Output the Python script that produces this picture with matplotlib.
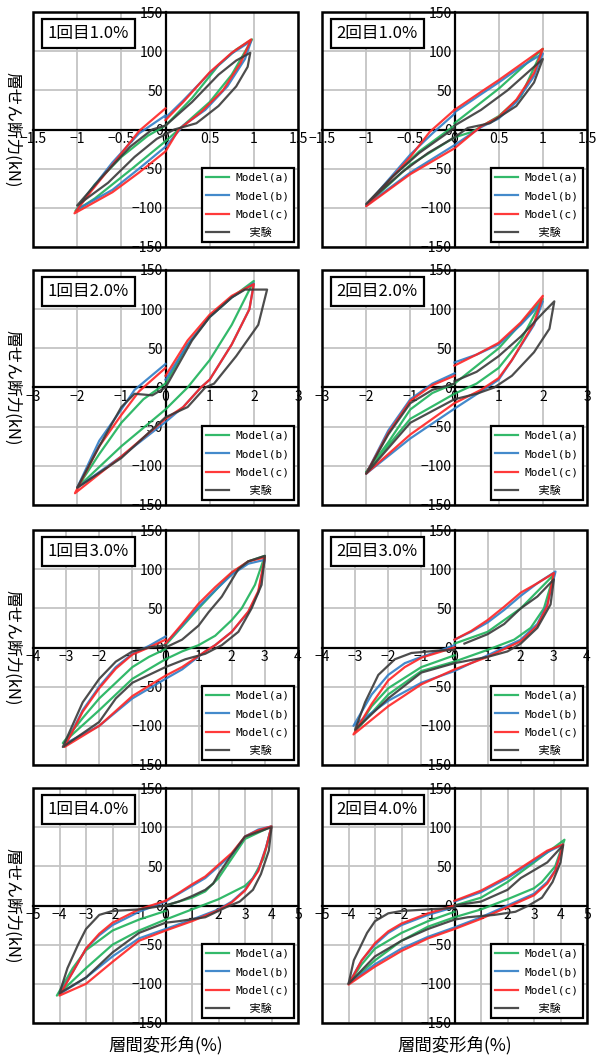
import matplotlib
matplotlib.use("Agg")
import matplotlib.pyplot as plt
from matplotlib.patches import Rectangle
from matplotlib.ticker import MultipleLocator, FuncFormatter

plt.rcParams['font.family'] = ['Noto Sans CJK JP', 'DejaVu Sans']

titles = ["1回目1.0%", "2回目1.0%", "1回目2.0%", "2回目2.0%",
          "1回目3.0%", "2回目3.0%", "1回目4.0%", "2回目4.0%"]
xmax = [1.5, 1.5, 3, 3, 4, 4, 5, 5]
xstep = [0.5, 0.5, 1, 1, 1, 1, 1, 1]
labels = ["Model(a)", "Model(b)", "Model(c)", "  実験"]
colors = ["#1db25a", "#2f7dc6", "#ff2424", "#3a3a3a"]

p1a = [(0, 5), (0.3, 40), (0.6, 82), (0.8, 102), (0.98, 115), (0.75, 70), (0.5, 35), (0.2, 5),
       (0, -15), (-0.4, -52), (-0.8, -88), (-1.02, -104), (-0.8, -70), (-0.5, -35), (-0.2, -8), (0, 5)]
p1b = [(0, 15), (0.2, 37), (0.5, 72), (0.75, 97), (0.97, 113), (0.9, 90), (0.7, 55), (0.45, 25),
       (0.2, 5), (0, -22), (-0.3, -50), (-0.6, -77), (-1.0, -102), (-0.85, -78), (-0.6, -42),
       (-0.3, -5), (0, 18)]
p1c = [(0, 12), (0.2, 35), (0.5, 73), (0.75, 98), (0.97, 115), (0.85, 85), (0.65, 50), (0.4, 22),
       (0.15, 0), (0, -28), (-0.3, -55), (-0.6, -80), (-1.03, -107), (-0.85, -80), (-0.6, -45),
       (-0.3, -2), (0, 27)]
p1e = [(0, 5), (0.3, 35), (0.6, 70), (0.8, 88), (0.96, 98), (0.93, 80), (0.8, 55), (0.6, 30),
       (0.35, 8), (0.1, 0), (-0.1, -12), (-0.35, -35), (-0.65, -68), (-1.0, -97), (-0.7, -58),
       (-0.4, -22), (-0.15, 0), (0, 5)]

p2a = [(0, 8), (0.5, 52), (1.0, 103), (0.75, 42), (0.5, 17), (0.2, -3), (0, -10), (-0.5, -45),
       (-1.0, -97), (-0.7, -60), (-0.4, -28), (0, 5)]
p2b = [(0, 22), (0.3, 45), (0.5, 60), (0.75, 80), (1.0, 97), (0.9, 68), (0.7, 35), (0.5, 14),
       (0.3, 3), (0, -20), (-0.5, -55), (-1.0, -97), (-0.5, -32), (-0.25, -5), (0, 20)]
p2c = [(0, 25), (0.3, 48), (0.5, 63), (0.75, 83), (1.0, 103), (0.9, 72), (0.7, 38), (0.5, 16),
       (0.3, 4), (0, -24), (-0.5, -57), (-1.0, -98), (-0.5, -35), (-0.28, -3), (0, 25)]
p2e = [(0, 5), (0.3, 25), (0.6, 50), (1.0, 90), (0.9, 60), (0.7, 30), (0.4, 8), (0.15, 2),
       (0, -10), (-0.3, -30), (-0.6, -55), (-1.0, -95), (-0.7, -60), (-0.4, -30), (0, 2)]

p3a = [(0, 5), (0.5, 55), (1.0, 90), (1.5, 115), (2.0, 136), (1.5, 80), (1.0, 35), (0.5, 0),
       (0, -28), (-1.0, -75), (-2.0, -128), (-1.5, -85), (-1.0, -45), (-0.5, -15), (0, 5)]
p3b = [(0, 10), (0.5, 55), (1.0, 90), (1.5, 115), (2.0, 133), (1.9, 100), (1.5, 55), (1.0, 10),
       (0.8, 0), (0.4, -25), (0, -44), (-1.0, -88), (-2.0, -128), (-1.5, -68), (-1.0, -28),
       (-0.7, -3), (0, 30)]
p3c = [(0, 15), (0.5, 60), (1.0, 93), (1.5, 117), (2.0, 132), (1.9, 100), (1.5, 55), (1.0, 10),
       (0.8, 0), (0.4, -25), (0, -40), (-1.0, -88), (-2.05, -135), (-1.5, -75), (-1.0, -35),
       (-0.6, -5), (0, 25)]
p3e = [(0, 0), (0.3, 30), (0.6, 60), (1.0, 90), (1.5, 115), (1.8, 125), (2.3, 125), (2.1, 80),
       (1.6, 40), (1.1, 5), (0.9, 0), (0.5, -25), (0, -38), (-1.0, -90), (-2.0, -128),
       (-1.5, -75), (-1.0, -25), (-0.7, -8), (-0.3, -10), (0, 0)]

p4a = [(0, 5), (1.0, 50), (2.0, 113), (1.5, 60), (1.0, 25), (0.5, 5), (0, -8), (-1.0, -40),
       (-2.0, -108), (-1.5, -70), (-1.0, -28), (-0.5, -7), (0, 5)]
p4b = [(0, 32), (0.5, 42), (1.0, 55), (1.5, 80), (2.0, 110), (1.8, 80), (1.3, 35), (1.0, 10),
       (0.6, -5), (0, -27), (-1.0, -65), (-2.0, -110), (-1.5, -55), (-1.0, -15), (-0.5, 5),
       (0, 18)]
p4c = [(0, 28), (0.5, 42), (1.0, 57), (1.5, 83), (2.0, 117), (1.8, 82), (1.3, 35), (1.0, 12),
       (0.6, -3), (0, -20), (-1.0, -60), (-2.0, -110), (-1.5, -58), (-1.0, -17), (-0.5, 3),
       (0, 15)]
p4e = [(0, 8), (0.5, 20), (1.0, 40), (1.5, 65), (2.0, 95), (2.26, 110), (2.15, 75), (1.8, 45),
       (1.3, 15), (0.9, 0), (0.5, -8), (0, -15), (-1.0, -45), (-2.0, -110), (-1.5, -60),
       (-1.0, -20), (-0.5, -3), (0, 5)]

p5a = [(0, 3), (1.0, 50), (2.0, 95), (2.5, 110), (3.0, 117), (2.7, 80), (2.3, 50), (2.0, 35),
       (1.5, 15), (1.0, 3), (0.5, -5), (0, -15), (-1.0, -40), (-2.0, -80), (-3.1, -122),
       (-2.5, -90), (-2.0, -65), (-1.5, -45), (-1.0, -25), (-0.5, -12), (0, -2)]
p5b = [(0, 5), (0.5, 28), (1.0, 52), (1.5, 73), (2.0, 93), (2.5, 107), (3.0, 112), (2.8, 70),
       (2.5, 45), (2.0, 20), (1.5, 3), (1.2, -5), (0.5, -28), (0, -40), (-1.0, -65),
       (-2.0, -100), (-3.0, -122), (-2.5, -80), (-2.0, -50), (-1.5, -25), (-1.0, -8),
       (-0.5, 2), (0, 14)]
p5c = [(0, 5), (0.5, 30), (1.0, 56), (1.5, 77), (2.0, 96), (2.5, 110), (3.0, 115), (2.8, 72),
       (2.5, 46), (2.0, 20), (1.5, 3), (1.2, -5), (0.5, -25), (0, -36), (-1.0, -62),
       (-2.0, -100), (-3.05, -127), (-2.5, -82), (-2.0, -52), (-1.5, -27), (-1.0, -9),
       (-0.5, 0), (0, 10)]
p5e = [(0, 0), (0.5, 10), (1.0, 28), (1.3, 45), (1.7, 65), (2.2, 100), (2.5, 110), (3.0, 117),
       (2.9, 80), (2.6, 50), (2.2, 20), (1.7, 3), (1.2, -8), (0.6, -15), (0, -25), (-0.5, -35),
       (-1.0, -45), (-1.5, -65), (-2.0, -95), (-3.1, -127), (-2.5, -70), (-2.0, -40),
       (-1.5, -18), (-1.0, -5), (-0.5, 0), (0, 3)]

p6a = [(0, 5), (1.0, 20), (2.0, 50), (3.0, 93), (2.7, 50), (2.3, 25), (1.8, 10), (1.0, -3),
       (0, -18), (-1.0, -30), (-2.0, -60), (-3.0, -107), (-2.5, -75), (-2.0, -52), (-1.0, -25),
       (0, -10)]
p6b = [(0, 10), (0.5, 20), (1.0, 32), (1.5, 48), (2.0, 66), (2.5, 82), (3.05, 97), (2.8, 55),
       (2.5, 30), (2.0, 10), (1.5, 0), (1.0, -10), (0, -30), (-1.0, -45), (-2.0, -68),
       (-3.05, -100), (-2.5, -60), (-2.0, -35), (-1.5, -20), (-1.0, -12), (-0.5, -5), (0, 3)]
p6c = [(0, 10), (0.5, 21), (1.0, 35), (1.5, 52), (2.0, 70), (2.5, 82), (3.0, 95), (2.8, 53),
       (2.5, 28), (2.0, 8), (1.5, -2), (1.0, -12), (0, -28), (-1.0, -47), (-2.0, -75),
       (-3.05, -111), (-2.5, -72), (-2.0, -42), (-1.5, -25), (-1.0, -13), (0, 0)]
p6e = [(0.3, 5), (1.0, 17), (1.5, 30), (2.0, 50), (2.5, 65), (3.0, 87), (2.9, 55), (2.5, 25),
       (2.0, 5), (1.6, -5), (1.0, -12), (0.5, -16), (0, -20), (-1.0, -32), (-2.0, -65),
       (-3.0, -105), (-2.7, -70), (-2.3, -35), (-1.8, -15), (-1.3, -7), (-0.5, -4), (0, -3)]

p7a = [(0, 0), (1.0, 10), (1.5, 18), (2.0, 35), (2.5, 60), (3.0, 85), (4.0, 101), (3.7, 60),
       (3.3, 35), (3.0, 25), (2.0, 8), (1.0, -5), (0, -18), (-1.0, -32), (-2.0, -50),
       (-3.0, -80), (-4.1, -115), (-3.5, -80), (-3.0, -57), (-2.0, -32), (-1.0, -18), (0, -7)]
p7b = [(0, 5), (0.5, 15), (1.0, 25), (1.5, 35), (2.0, 50), (2.5, 65), (3.0, 88), (3.5, 97),
       (4.0, 101), (3.8, 75), (3.5, 45), (3.0, 20), (2.5, 5), (2.0, -5), (1.0, -18), (0, -30),
       (-1.0, -42), (-2.0, -65), (-3.0, -92), (-4.0, -113), (-3.5, -85), (-3.0, -55),
       (-2.5, -38), (-2.0, -25), (-1.0, -8), (0, 5)]
p7c = [(0, 6), (0.5, 16), (1.0, 27), (1.5, 37), (2.0, 52), (2.5, 67), (3.0, 88), (3.5, 96),
       (4.0, 101), (3.8, 74), (3.5, 44), (3.0, 19), (2.5, 4), (2.0, -6), (1.0, -20), (0, -32),
       (-1.0, -45), (-2.0, -72), (-3.0, -100), (-4.0, -115), (-3.5, -85), (-3.0, -55),
       (-2.5, -36), (-2.0, -22), (-1.0, -5), (0, 6)]
p7e = [(0, 0), (0.5, 5), (1.0, 12), (1.5, 20), (1.8, 28), (2.0, 40), (2.5, 65), (3.0, 88),
       (4.0, 100), (3.9, 70), (3.6, 40), (3.3, 20), (2.8, 5), (2.3, -2), (1.5, -15), (0.5, -20),
       (0, -22), (-1.0, -35), (-2.0, -60), (-3.0, -92), (-4.0, -112), (-3.7, -80), (-3.3, -50),
       (-3.0, -30), (-2.5, -12), (-2.0, -7), (-1.0, -5), (0, 0)]

p8a = [(0, 0), (1.0, 10), (2.0, 30), (3.0, 55), (4.15, 84), (3.8, 50), (3.3, 30), (3.0, 22),
       (2.0, 8), (1.0, -5), (0, -15), (-1.0, -27), (-2.0, -45), (-3.0, -70), (-4.0, -100),
       (-3.5, -75), (-3.0, -55), (-2.0, -35), (-1.0, -20), (0, -8)]
p8b = [(0, 5), (1.0, 17), (2.0, 35), (3.0, 57), (3.5, 68), (4.1, 78), (3.8, 45), (3.5, 30),
       (3.0, 15), (2.0, 0), (1.0, -15), (0, -28), (-1.0, -40), (-2.0, -55), (-3.0, -75),
       (-4.0, -100), (-3.5, -70), (-3.0, -50), (-2.5, -35), (-2.0, -25), (-1.0, -12), (0, -2)]
p8c = [(0, 6), (1.0, 19), (2.0, 37), (3.0, 59), (3.5, 70), (4.1, 78), (3.8, 44), (3.5, 28),
       (3.0, 13), (2.0, -2), (1.0, -17), (0, -30), (-1.0, -42), (-2.0, -58), (-3.0, -78),
       (-4.0, -101), (-3.5, -70), (-3.0, -48), (-2.5, -33), (-2.0, -23), (-1.0, -10), (0, 0)]
p8e = [(0, 0), (1.0, 5), (2.0, 20), (2.5, 35), (3.0, 45), (3.5, 55), (4.1, 77), (4.0, 55),
       (3.7, 30), (3.3, 10), (2.8, 0), (2.3, -8), (1.5, -12), (0.5, -15), (0, -18), (-1.0, -30),
       (-2.0, -45), (-3.0, -65), (-4.0, -100), (-3.8, -70), (-3.3, -35), (-3.0, -20),
       (-2.5, -10), (-2.0, -7), (-1.0, -5), (0, -3)]

panels = [(p1a, p1b, p1c, p1e), (p2a, p2b, p2c, p2e), (p3a, p3b, p3c, p3e), (p4a, p4b, p4c, p4e),
          (p5a, p5b, p5c, p5e), (p6a, p6b, p6c, p6e), (p7a, p7b, p7c, p7e), (p8a, p8b, p8c, p8e)]

W, H = 596, 1061
fig = plt.figure(figsize=(W / 100, H / 100), dpi=100)

col_left = [33, 322]
row_top = [12, 270, 530, 788]
aw, ah = 265, 235

def fmt(v, pos):
    s = "%g" % v
    return s.replace("-", "\u2212")

for i, loops in enumerate(panels):
    r, c = divmod(i, 2)
    ax = fig.add_axes([col_left[c] / W, 1 - (row_top[r] + ah) / H, aw / W, ah / H])
    xm = xmax[i]
    ax.set_xlim(-xm, xm)
    ax.set_ylim(-150, 150)
    ax.xaxis.set_major_locator(MultipleLocator(xstep[i]))
    ax.yaxis.set_major_locator(MultipleLocator(50))
    ax.xaxis.set_major_formatter(FuncFormatter(fmt))
    ax.yaxis.set_major_formatter(FuncFormatter(fmt))
    ax.grid(True, color="#c4c4c4", lw=1.3, zorder=0)
    ax.set_axisbelow(True)

    for k, pts in enumerate(loops):
        xs = [p[0] for p in pts]
        ys = [p[1] for p in pts]
        ax.plot(xs, ys, color=colors[k], lw=1.6, alpha=0.9, label=labels[k],
                solid_joinstyle="round", zorder=3)

    ax.spines["left"].set_position(("data", 0))
    ax.spines["bottom"].set_position(("data", 0))
    ax.spines["top"].set_visible(False)
    ax.spines["right"].set_visible(False)
    for s in ("left", "bottom"):
        ax.spines[s].set_linewidth(1.6)
        ax.spines[s].set_color("black")
        ax.spines[s].set_zorder(2)
    ax.tick_params(length=0, labelsize=10, pad=2)
    ax.add_patch(Rectangle((0, 0), 1, 1, transform=ax.transAxes, fill=False,
                           ec="black", lw=1.8, clip_on=False, zorder=6))

    ax.text(0.055, 0.945, titles[i], transform=ax.transAxes, ha="left", va="top",
            fontsize=12, zorder=7,
            bbox=dict(boxstyle="square,pad=0.35", fc="white", ec="black", lw=1.6))

    leg = ax.legend(loc="lower right", bbox_to_anchor=(0.985, 0.02), borderaxespad=0,
                    prop={"family": ["DejaVu Sans Mono", "Noto Sans CJK JP"], "size": 8},
                    fancybox=False, framealpha=1, edgecolor="black", handlelength=2.1,
                    handletextpad=0.55, labelspacing=0.75, borderpad=0.4)
    leg.get_frame().set_linewidth(1.6)
    leg.set_zorder(8)

    if c == 0:
        ax.set_ylabel("層せん断力(kN)", rotation=270, fontsize=12, va="center")
        ax.yaxis.set_label_coords(-0.079, 0.5)
    if r == 3:
        ax.set_xlabel("層間変形角(%)", fontsize=12.5, va="center")
        ax.xaxis.set_label_coords(0.5, -0.094)

fig.savefig("out.png", dpi=100)
